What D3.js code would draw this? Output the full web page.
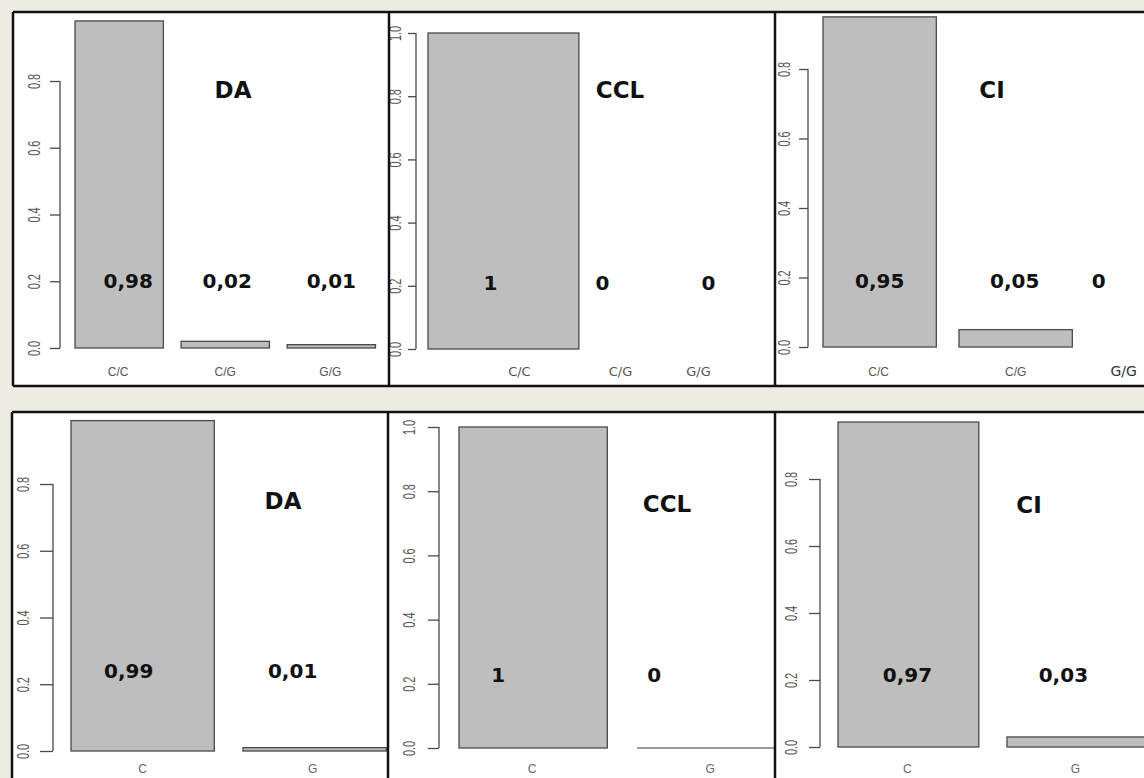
<!DOCTYPE html>
<html>
<head>
<meta charset="utf-8">
<script src="https://cdn.jsdelivr.net/npm/d3@7"></script>
<style>
  html, body { margin: 0; padding: 0; background: #eeece3; }
  svg { display: block; }
</style>
</head>
<body>
<svg id="chart" width="1144" height="778"></svg>
<script>
// Genotype / allele frequencies for the three groups
const genotypes = ["C/C", "C/G", "G/G"];
const alleles = ["C", "G"];
const groupNames = ["DA", "CCL", "CI"];

const daGenotype = [0.98, 0.02, 0.01];
const cclGenotype = [1, 0, 0];
const ciGenotype = [0.95, 0.05, 0];

const daAllele = [0.99, 0.01];
const cclAllele = [1, 0];
const ciAllele = [0.97, 0.03];

const ticksTo08 = [0, 0.2, 0.4, 0.6, 0.8];
const ticksTo10 = [0, 0.2, 0.4, 0.6, 0.8, 1.0];

// Panel layout: frame [x0, y0, x1, y1], axis placement, bar band range, label offsets
const panels = [
  { title: groupNames[0], cats: genotypes, values: daGenotype, ticks: ticksTo08,
    frame: [13, 12, 389, 386], axisX: 60, yBase: 348, yOne: 14.25, band: [75, 375.5],
    tickLen: 10, tickLabelX: 40, titlePos: [233, 98], valY: 288, valDx: [9, 2, 0],
    catY: 376, catDx: [-1, 0, -1], catStyle: ["plain", "plain", "plain"] },
  { title: groupNames[1], cats: genotypes, values: cclGenotype, ticks: ticksTo10,
    frame: [389, 12, 775, 386], axisX: 416, yBase: 349, yOne: 33, band: [428, 941],
    tickLen: 8, tickLabelX: 401, titlePos: [620, 98], valY: 290, valDx: [-13, -82, -157],
    catY: 376, catDx: [16, -64, -167], catStyle: ["edit", "edit", "edit"] },
  { title: groupNames[2], cats: genotypes, values: ciGenotype, ticks: ticksTo08,
    frame: [775, 12, 1146, 386], axisX: 808, yBase: 347, yOne: -0.5, band: [823, 1208.3],
    tickLen: 9, tickLabelX: 790, titlePos: [992, 98], valY: 288, valDx: [0, -1, -53],
    catY: 376, catDx: [-1, 0, -28], catStyle: ["plain", "plain", "editDark"] },
  { title: groupNames[0], cats: alleles, values: daAllele, ticks: ticksTo08,
    frame: [12, 412, 388, 782], axisX: 53, yBase: 751, yOne: 417.25, band: [71, 386.3],
    tickLen: 13, tickLabelX: 29, titlePos: [283, 509], valY: 678, valDx: [-14, -22],
    catY: 773, catDx: [0, -2], catStyle: ["light", "light"] },
  { title: groupNames[1], cats: alleles, values: cclAllele, ticks: ticksTo10,
    frame: [388, 412, 775, 782], axisX: 439, yBase: 748, yOne: 427, band: [459, 785.3],
    tickLen: 11, tickLabelX: 415, titlePos: [667, 512], valY: 682, valDx: [-35, -57],
    catY: 773, catDx: [-1, -1], catStyle: ["light", "light"], showZero: true },
  { title: groupNames[2], cats: alleles, values: ciAllele, ticks: ticksTo08,
    frame: [775, 412, 1146, 782], axisX: 820, yBase: 747, yOne: 412, band: [838, 1147.8],
    tickLen: 11, tickLabelX: 797, titlePos: [1029, 513], valY: 682, valDx: [-1, -14],
    catY: 773, catDx: [-1, -2], catStyle: ["light", "light"] }
];

const catStyles = {
  plain:    { font: "Liberation Sans, Arial, sans-serif", size: 12, fill: "#555" },
  light:    { font: "Liberation Sans, Arial, sans-serif", size: 12, fill: "#666" },
  edit:     { font: "DejaVu Sans, Verdana, sans-serif", size: 13, fill: "#555" },
  editDark: { font: "DejaVu Sans, Verdana, sans-serif", size: 14, fill: "#333" }
};

const fmtValue = v => String(v).replace(".", ",");
const svg = d3.select("#chart");

panels.forEach((p, i) => {
  const [fx0, fy0, fx1, fy1] = p.frame;

  svg.append("clipPath").attr("id", "clip" + i)
    .append("rect").attr("x", fx0).attr("y", fy0)
    .attr("width", fx1 - fx0).attr("height", fy1 - fy0);

  // white plotting panel
  svg.append("rect").attr("x", fx0).attr("y", fy0)
    .attr("width", fx1 - fx0).attr("height", fy1 - fy0)
    .attr("fill", "#fff");

  const g = svg.append("g").attr("clip-path", `url(#clip${i})`);

  const y = d3.scaleLinear().domain([0, 1]).range([p.yBase, p.yOne]);
  const x = d3.scaleBand().domain(p.cats).range(p.band)
    .paddingInner(1 / 6).paddingOuter(0);

  // bars
  const rows = p.cats.map((c, k) => ({ cat: c, value: p.values[k], k }));
  g.selectAll("rect.bar").data(rows.filter(d => d.value > 0)).join("rect")
    .attr("class", "bar")
    .attr("x", d => x(d.cat))
    .attr("y", d => y(d.value))
    .attr("width", x.bandwidth())
    .attr("height", d => y(0) - y(d.value))
    .attr("fill", "#bebebe")
    .attr("stroke", "#4a4a4a")
    .attr("stroke-width", 1.3);

  if (p.showZero) {
    g.selectAll("line.zero").data(rows.filter(d => d.value === 0)).join("line")
      .attr("class", "zero")
      .attr("x1", d => x(d.cat)).attr("x2", d => x(d.cat) + x.bandwidth())
      .attr("y1", y(0)).attr("y2", y(0))
      .attr("stroke", "#7a7a7a").attr("stroke-width", 1.6);
  }

  // y axis, R style: line spans first to last tick, rotated labels
  const axis = d3.axisLeft(y).tickValues(p.ticks)
    .tickSize(p.tickLen).tickSizeOuter(0).tickFormat(d3.format(".1f"));
  const ax = g.append("g").attr("transform", `translate(${p.axisX},0)`).call(axis);
  ax.select(".domain")
    .attr("d", `M0,${y(p.ticks[0])}V${y(p.ticks[p.ticks.length - 1])}`)
    .attr("stroke", "#4a4a4a").attr("stroke-width", 1.3);
  ax.selectAll(".tick line").attr("stroke", "#4a4a4a").attr("stroke-width", 1.3);
  ax.selectAll(".tick text")
    .attr("x", null).attr("dy", null)
    .attr("text-anchor", "middle")
    .attr("transform", `translate(${p.tickLabelX - p.axisX},0) rotate(-90) scale(0.64,1)`)
    .attr("font-family", "Liberation Sans, Arial, sans-serif")
    .attr("font-size", 17)
    .attr("fill", "#555");

  // category labels
  g.selectAll("text.cat").data(rows).join("text")
    .attr("class", "cat")
    .attr("x", d => x(d.cat) + x.bandwidth() / 2 + p.catDx[d.k])
    .attr("y", p.catY)
    .attr("text-anchor", "middle")
    .attr("font-family", d => catStyles[p.catStyle[d.k]].font)
    .attr("font-size", d => catStyles[p.catStyle[d.k]].size)
    .attr("fill", d => catStyles[p.catStyle[d.k]].fill)
    .text(d => d.cat);

  // group title
  g.append("text")
    .attr("x", p.titlePos[0]).attr("y", p.titlePos[1])
    .attr("text-anchor", "middle")
    .attr("font-family", "DejaVu Sans, Verdana, sans-serif")
    .attr("font-weight", "bold").attr("font-size", 23)
    .attr("fill", "#111")
    .text(p.title);

  // frequency labels
  g.selectAll("text.val").data(rows).join("text")
    .attr("class", "val")
    .attr("x", d => x(d.cat) + x.bandwidth() / 2 + p.valDx[d.k])
    .attr("y", p.valY)
    .attr("text-anchor", "middle")
    .attr("font-family", "DejaVu Sans, Verdana, sans-serif")
    .attr("font-weight", "bold").attr("font-size", 20)
    .attr("fill", "#111")
    .text(d => fmtValue(d.value));
});

// panel borders
const border = svg.append("g").attr("fill", "none").attr("stroke", "#111").attr("stroke-width", 2.5);
[[13, 12, 1146, 12], [13, 386, 1146, 386], [13, 12, 13, 386], [389, 12, 389, 386], [775, 12, 775, 386],
 [12, 412, 1146, 412], [12, 412, 12, 782], [388, 412, 388, 782], [775, 412, 775, 782]]
  .forEach(([a, b, c, d]) => border.append("line").attr("x1", a).attr("y1", b).attr("x2", c).attr("y2", d));
</script>
</body>
</html>
